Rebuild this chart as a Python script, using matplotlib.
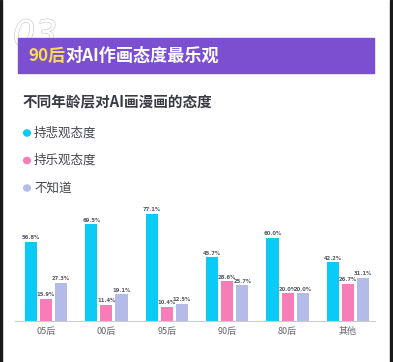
import matplotlib
matplotlib.use("Agg")
import matplotlib.pyplot as plt
import matplotlib.patheffects as pe
from matplotlib.patches import Rectangle
import numpy as np

plt.rcParams["font.family"] = ["Noto Sans CJK SC", "DejaVu Sans"]

groups = ["05后", "00后", "95后", "90后", "80后", "其他"]
series_names = ["持悲观态度", "持乐观态度", "不知道"]
pessimistic = [56.8, 69.5, 77.1, 45.7, 60.0, 42.2]
optimistic = [15.9, 11.4, 10.4, 28.6, 20.0, 26.7]
unknown = [27.3, 19.1, 12.5, 25.7, 20.0, 31.1]
colors = ["#0ccaf6", "#f77db8", "#b5bbe8"]

W, H = 393, 362
fig = plt.figure(figsize=(W / 100, H / 100), dpi=100)
fig.patch.set_facecolor("white")


def fx(px):
    return px / W


def fy(py):
    return 1 - py / H


# dark frame edges
fig.add_artist(Rectangle((0, 0), fx(2), 1, transform=fig.transFigure, color="#1a1a1a", zorder=5))
fig.add_artist(Rectangle((fx(390), 0), fx(3), 1, transform=fig.transFigure, color="#1a1a1a", zorder=5))

# outlined "03", partly hidden behind the banner
fig.text(fx(13), fy(45), "03", fontsize=25, style="italic", family="DejaVu Sans",
         color="white", zorder=1,
         path_effects=[pe.Stroke(linewidth=0.9, foreground="#c8c8c8"), pe.Normal()])

# title banner
fig.add_artist(Rectangle((fx(18), fy(73)), fx(356), fy(38) - fy(73),
                         transform=fig.transFigure, color="#7b4fd0", zorder=2))
t1 = fig.text(fx(28), fy(56), "90后", fontsize=12.3, fontweight="bold", color="#f8dc52",
              va="center", zorder=3)
fig.canvas.draw()
bb = t1.get_window_extent()
fig.text(bb.x1 / fig.bbox.width, fy(56), "对AI作画态度最乐观", fontsize=12.3,
         fontweight="bold", color="white", va="center", zorder=3)

# subtitle
fig.text(fx(23), fy(102), "不同年龄层对AI画漫画的态度", fontsize=10.5, fontweight="bold",
         color="#3a3a44", va="center")

# legend
for i, (name, c) in enumerate(zip(series_names, colors)):
    y = 133 + i * 27.5
    fig.add_artist(plt.Circle((fx(27), fy(y)), 0.0085, transform=fig.transFigure,
                              color=c))
    fig.text(fx(34), fy(y), name, fontsize=9, color="#444450", va="center")

# bar chart
ax = fig.add_axes([fx(15), fy(321), fx(360), fy(200) - fy(321)])
x = np.arange(len(groups))
bw = 0.2
off = 0.25
for k, (vals, c) in enumerate(zip([pessimistic, optimistic, unknown], colors)):
    xs = x + (k - 1) * off
    ax.bar(xs, vals, width=bw, color=c, zorder=2)
    for xi, v in zip(xs, vals):
        ax.text(xi, v + 1.2, f"{v:.1f}%", ha="center", va="bottom", fontsize=3.8,
                fontweight="bold", color="#5a5a6a", family="DejaVu Sans")

ax.set_xlim(-0.513, 5.447)
ax.set_ylim(0, 87)
for s in ["top", "right", "left"]:
    ax.spines[s].set_visible(False)
ax.spines["bottom"].set_color("#cccccc")
ax.spines["bottom"].set_linewidth(0.8)
ax.set_yticks([])
ax.set_xticks(x)
ax.set_xticklabels(groups, fontsize=6.5, color="#666670")
ax.tick_params(axis="x", length=0, pad=4)
ax.set_facecolor("none")

fig.savefig("out.png", dpi=100)
